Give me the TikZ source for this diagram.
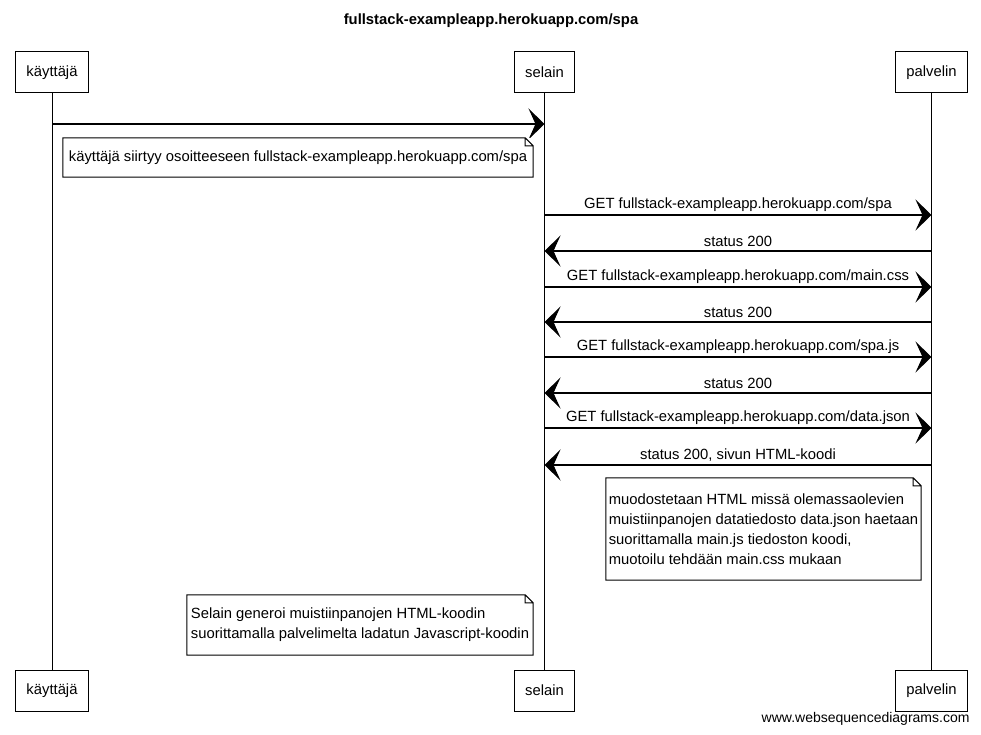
\documentclass[tikz,border=0pt]{standalone}
\usepackage{fontspec}
\setmainfont{Liberation Sans}
\usetikzlibrary{arrows.meta}
\newcommand{\notefold}[1]{\draw[line width=1pt] (#1.south west) -- (#1.north west) -- ([xshift=-8pt]#1.north east) -- ([yshift=-8pt]#1.north east) -- (#1.south east) -- cycle ([xshift=-8pt]#1.north east) |- ([yshift=-8pt]#1.north east);}

\begin{document}
\begin{tikzpicture}[x=1pt,y=-1pt,
	every node/.style={font=\fontsize{14.8}{20}\selectfont},
	actor/.style={draw,line width=1pt,minimum height=41pt,inner xsep=11pt},
	msg/.style={draw,line width=1.1pt,-{Stealth[length=16pt,width=31pt,inset=7pt]}},
	note/.style={fill=white,align=left,inner sep=0pt}]
	\useasboundingbox (0,0) rectangle (981,735);
	\node[font=\bfseries\fontsize{14.8}{18}\selectfont] (title) at (491,21) {fullstack-exampleapp.herokuapp.com/spa};
	% osapuolet
	\node[actor] (kt) at (52,72.5) {käyttäjä};
	\node[actor] (st) at (544.5,72.5) {selain};
	\node[actor] (pt) at (931.5,72.5) {palvelin};
	\node[actor] (kb) at (52,690.5) {käyttäjä};
	\node[actor] (sb) at (544.5,690.5) {selain};
	\node[actor] (pb) at (931.5,690.5) {palvelin};
	\draw[line width=1pt] (kt) -- (kb) (st) -- (sb) (pt) -- (pb);
	% viestit
	\path
	(kt |- 0,124) edge [msg] (st |- 0,124)
	(st |- 0,215) edge [msg] node [above] {GET fullstack-exampleapp.herokuapp.com/spa} (pt |- 0,215)
	(pt |- 0,251) edge [msg] node [above] {status 200} (st |- 0,251)
	(st |- 0,287) edge [msg] node [above] {GET fullstack-exampleapp.herokuapp.com/main.css} (pt |- 0,287)
	(pt |- 0,322) edge [msg] node [above] {status 200} (st |- 0,322)
	(st |- 0,357) edge [msg] node [above] {GET fullstack-exampleapp.herokuapp.com/spa.js} (pt |- 0,357)
	(pt |- 0,393) edge [msg] node [above] {status 200} (st |- 0,393)
	(st |- 0,428) edge [msg] node [above] {GET fullstack-exampleapp.herokuapp.com/data.json} (pt |- 0,428)
	(pt |- 0,465) edge [msg] node [above] {status 200, sivun HTML-koodi} (st |- 0,465);
	% huomautukset
	\node[note,minimum width=470pt,minimum height=39pt] (n1) at (298,157.5) {käyttäjä siirtyy osoitteeseen fullstack-exampleapp.herokuapp.com/spa};
	\notefold{n1}
	\node[note,minimum width=315pt,minimum height=102pt] (n2) at (763.5,529) {muodostetaan HTML missä olemassaolevien\\muistiinpanojen datatiedosto data.json haetaan\\suorittamalla main.js tiedoston koodi,\\muotoilu tehdään main.css mukaan};
	\notefold{n2}
	\node[note,minimum width=346pt,minimum height=60pt] (n3) at (360,625) {Selain generoi muistiinpanojen HTML-koodin\\suorittamalla palvelimelta ladatun Javascript-koodin};
	\notefold{n3}
	\node[anchor=east,font=\fontsize{14}{16}\selectfont] (wsd) at (973,719) {www.websequencediagrams.com};
\end{tikzpicture}
\end{document}
